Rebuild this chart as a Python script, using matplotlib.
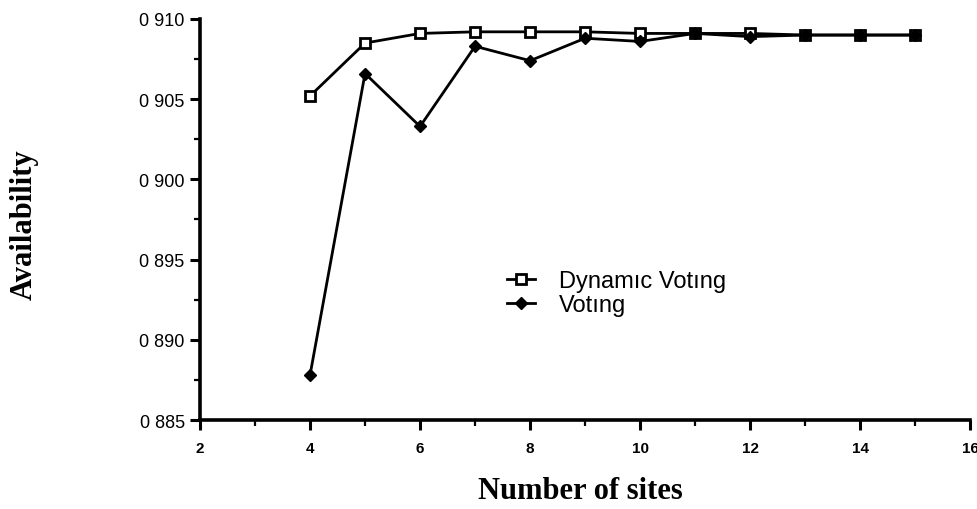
import numpy as np
import matplotlib.pyplot as plt
from matplotlib.ticker import FixedLocator, FixedFormatter, MultipleLocator

# availability versus number of sites
sites = [4, 5, 6, 7, 8, 9, 10, 11, 12, 13, 14, 15]
dynamic_voting = [0.9052, 0.9085, 0.9091, 0.9092, 0.9092, 0.9092,
                  0.9091, 0.9091, 0.9091, 0.9090, 0.9090, 0.9090]
voting = [0.8878, 0.9066, 0.9033, 0.9083, 0.9074, 0.9088,
          0.9086, 0.9091, 0.9089, 0.9090, 0.9090, 0.9090]

y_ticks = [0.885, 0.890, 0.895, 0.900, 0.905, 0.910]
y_labels = ["0 885", "0 890", "0 895", "0 900", "0 905", "0 910"]
x_ticks = [2, 4, 6, 8, 10, 12, 14, 16]

fig = plt.figure(figsize=(9.78, 5.10), dpi=100)
ax = fig.add_axes([0.2045, 0.1745, 0.7875, 0.7863])

ax.plot(sites, dynamic_voting, color="black", linewidth=2.0,
        marker="s", markersize=7, markerfacecolor="white",
        markeredgecolor="black", markeredgewidth=2.0,
        label="Dynamıc Votıng", zorder=2)
ax.plot(sites, voting, color="black", linewidth=2.0,
        marker="D", markersize=6.5, markerfacecolor="black",
        markeredgecolor="black", label="Votıng", zorder=3)

ax.set_xlim(2, 16)
ax.set_ylim(0.885, 0.910)
ax.xaxis.set_major_locator(FixedLocator(x_ticks))
ax.xaxis.set_minor_locator(MultipleLocator(1))
ax.yaxis.set_major_locator(FixedLocator(y_ticks))
ax.yaxis.set_major_formatter(FixedFormatter(y_labels))
ax.yaxis.set_minor_locator(MultipleLocator(0.0025))

for side in ("top", "right"):
    ax.spines[side].set_visible(False)
for side in ("left", "bottom"):
    ax.spines[side].set_linewidth(2.6)

ax.tick_params(which="major", direction="out", length=7, width=2.2)
ax.tick_params(which="minor", direction="out", length=4, width=1.6)
ax.tick_params(axis="y", labelsize=13, pad=4)
ax.tick_params(axis="x", labelsize=11, pad=8)
for lbl in ax.get_yticklabels():
    lbl.set_family("Liberation Sans")
for lbl in ax.get_xticklabels():
    lbl.set_family("Liberation Sans")
    lbl.set_fontweight("bold")

fig.text(0.025, 0.559, "Availability", rotation=90, ha="center", va="center",
         family="Liberation Serif", fontweight="bold", fontsize=22)
fig.text(0.593, 0.037, "Number of sites", ha="center", va="center",
         family="Liberation Serif", fontweight="bold", fontsize=22)

ax.legend(loc="center left", bbox_to_anchor=(0.518, 0.4235),
          bbox_transform=fig.transFigure, frameon=False,
          borderpad=0, borderaxespad=0,
          handlelength=1.2, handletextpad=1.0, labelspacing=0.1,
          prop={"family": "Liberation Sans", "size": 17})

fig.savefig("out.png", dpi=100)
